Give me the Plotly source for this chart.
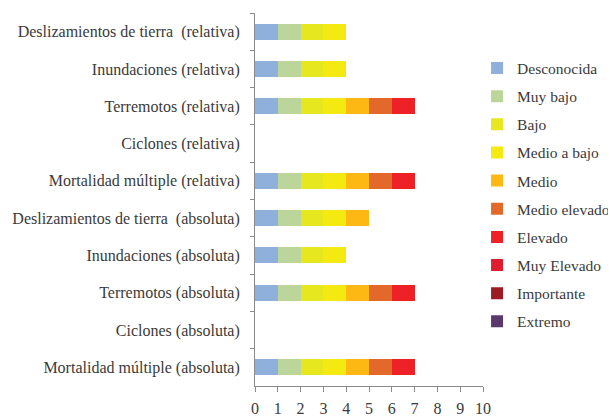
import plotly.graph_objects as go

categories = [
    "Deslizamientos de tierra  (relativa)",
    "Inundaciones (relativa)",
    "Terremotos (relativa)",
    "Ciclones (relativa)",
    "Mortalidad múltiple (relativa)",
    "Deslizamientos de tierra  (absoluta)",
    "Inundaciones (absoluta)",
    "Terremotos (absoluta)",
    "Ciclones (absoluta)",
    "Mortalidad múltiple (absoluta)",
]

levels = ["Desconocida", "Muy bajo", "Bajo", "Medio a bajo", "Medio",
          "Medio elevado", "Elevado", "Muy Elevado", "Importante", "Extremo"]

colors = ["#8fb0da", "#bcd59b", "#e6e71e", "#f4e911", "#fdb813",
          "#e2692a", "#ed2126", "#e01d2e", "#9c1b22", "#5a3a6c"]

# value contributed by each level for each category (top to bottom)
desconocida   = [1, 1, 1, 0, 1, 1, 1, 1, 0, 1]
muy_bajo      = [1, 1, 1, 0, 1, 1, 1, 1, 0, 1]
bajo          = [1, 1, 1, 0, 1, 1, 1, 1, 0, 1]
medio_a_bajo  = [1, 1, 1, 0, 1, 1, 1, 1, 0, 1]
medio         = [0, 0, 1, 0, 1, 1, 0, 1, 0, 1]
medio_elevado = [0, 0, 1, 0, 1, 0, 0, 1, 0, 1]
elevado       = [0, 0, 1, 0, 1, 0, 0, 1, 0, 1]
muy_elevado   = [0, 0, 0, 0, 0, 0, 0, 0, 0, 0]
importante    = [0, 0, 0, 0, 0, 0, 0, 0, 0, 0]
extremo       = [0, 0, 0, 0, 0, 0, 0, 0, 0, 0]

series = [desconocida, muy_bajo, bajo, medio_a_bajo, medio,
          medio_elevado, elevado, muy_elevado, importante, extremo]

x_ticks = list(range(0, 11))

fig = go.Figure()
for name, vals, col in zip(levels, series, colors):
    fig.add_trace(go.Bar(
        y=categories, x=vals, name=name, orientation="h",
        marker=dict(color=col, line=dict(width=0)),
        width=0.43, legendgroup=name,
    ))

font_family = "Liberation Serif, Times New Roman, serif"
fig.update_layout(
    barmode="stack",
    width=608, height=409,
    margin=dict(l=247, r=133, t=5, b=31, autoexpand=False),
    paper_bgcolor="white", plot_bgcolor="white",
    font=dict(family=font_family, size=16, color="#3a3a3a"),
    legend=dict(
        x=0.974, y=0.897, xanchor="left", yanchor="top",
        traceorder="grouped", tracegroupgap=5,
        font=dict(family=font_family, size=15.5, color="#3a3a3a"),
        itemwidth=30, bgcolor="rgba(0,0,0,0)",
    ),
    xaxis=dict(
        range=[0, 10], tickvals=x_ticks, ticktext=[str(v) for v in x_ticks],
        showgrid=False, zeroline=False, showline=True, linecolor="#8a8a8a",
        ticks="outside", ticklen=5, tickcolor="#8a8a8a",
        tickfont=dict(size=16), ticklabelstandoff=3, automargin=False,
    ),
    yaxis=dict(
        autorange="reversed", showgrid=False, zeroline=False,
        showline=True, linecolor="#8a8a8a",
        ticks="outside", tickson="boundaries", ticklen=4, tickcolor="#8a8a8a",
        tickfont=dict(size=16), ticklabelstandoff=11, automargin=False,
    ),
)

fig.write_html("out.html")
